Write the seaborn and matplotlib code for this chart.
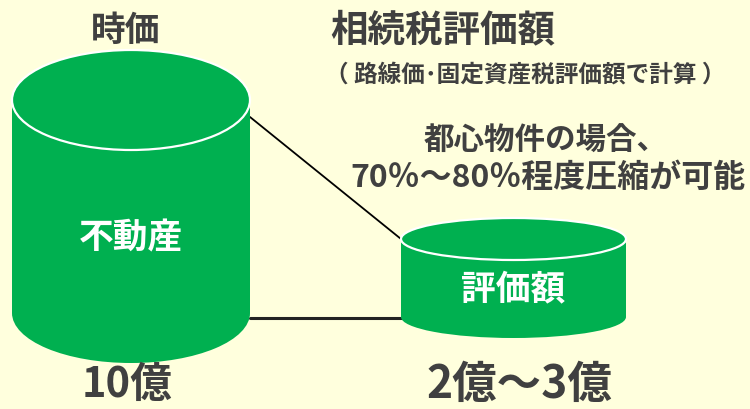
"""Market value vs. inheritance-tax valuation of real estate, drawn as two cylinders."""
import matplotlib
matplotlib.use("Agg")
import matplotlib.pyplot as plt
from matplotlib.patches import Ellipse
import seaborn as sns

# chart content
categories = ["不動産", "評価額"]
value_labels = ["10億", "2億～3億"]
column_titles = ["時価", "相続税評価額"]
subtitle = "（ 路線価･固定資産税評価額で計算 ）"
note_lines = ["都心物件の場合、", "70％～80％程度圧縮が可能"]

# layout (pixel coords, y down)
W, H = 750, 409
cx = [131, 513.5]
half_w = [119, 112.5]
top_y = [100, 239]
bot_y = [313, 317]
rim = [50, 21]

GREEN = "#00B050"
BG = "#FFFFDD"
INK = "#404040"

sns.set_theme(style="white")
plt.rcParams["font.family"] = ["Noto Sans CJK JP", "DejaVu Sans"]

fig = plt.figure(figsize=(W / 100, H / 100), dpi=100, facecolor=BG)
ax = fig.add_axes([0, 0, 1, 1])
ax.set_facecolor(BG)
ax.set_xlim(0, W)
ax.set_ylim(H, 0)
ax.axis("off")

# connector lines between the cylinders
ax.plot([cx[0] + half_w[0], cx[1] - half_w[1]], [top_y[0] + 17, top_y[1]],
        color="black", lw=1.3, zorder=1)
ax.plot([cx[0] + half_w[0], cx[1] - half_w[1]], [bot_y[0] + 5, bot_y[0] + 5],
        color="#222222", lw=2.2, zorder=1)

for i, name in enumerate(categories):
    # body
    ax.bar(cx[i], bot_y[i] - top_y[i], width=2 * half_w[i], bottom=top_y[i],
           color=GREEN, edgecolor="none", zorder=2)
    ax.add_patch(Ellipse((cx[i], bot_y[i]), 2 * half_w[i], 2 * rim[i],
                         facecolor=GREEN, edgecolor="none", zorder=2))
    # lid
    ax.add_patch(Ellipse((cx[i], top_y[i]), 2 * half_w[i], 2 * rim[i],
                         facecolor=GREEN, edgecolor="white", lw=1.6, zorder=3))
    mid = (top_y[i] + rim[i] + bot_y[i]) / 2 + (6 if i == 0 else 0)
    ax.text(cx[i], mid, name, color="white", fontsize=25, fontweight="bold",
            ha="center", va="center", zorder=4)
    ax.text(cx[i] - 4 + 10 * i, 385, value_labels[i], color=INK,
            fontsize=30 + 2 * i, fontweight="bold", ha="center", va="center",
            zorder=4)

ax.text(126, 30, column_titles[0], color=INK, fontsize=25, fontweight="bold",
        ha="center", va="center")
ax.text(443, 30, column_titles[1], color=INK, fontsize=27, fontweight="bold",
        ha="center", va="center")
ax.text(525, 75, subtitle, color=INK, fontsize=17, fontweight="bold",
        ha="center", va="center")
ax.text(546, 141, note_lines[0], color=INK, fontsize=22, fontweight="bold",
        ha="center", va="center")
ax.text(548, 178, note_lines[1], color=INK, fontsize=23, fontweight="bold",
        ha="center", va="center")

fig.savefig("out.png", dpi=100, facecolor=BG)
